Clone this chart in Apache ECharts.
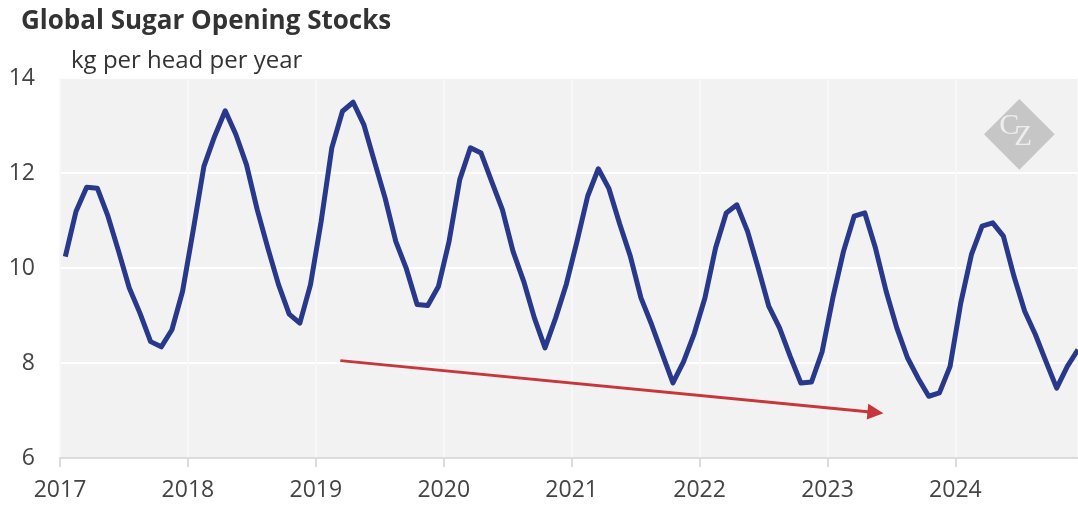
<!DOCTYPE html>
<html><head><meta charset="utf-8">
<script src="https://cdn.jsdelivr.net/npm/echarts@6/dist/echarts.min.js"></script>
<style>html,body{margin:0;padding:0;background:#fff}#c{width:1078px;height:506px}</style>
</head><body><div id="c"></div>
<script>
// Monthly opening stocks, kg per head per year (Jan..Dec)
const startYear = 2017;
const stocks2017 = [10.24, 11.19, 11.70, 11.68, 11.09, 10.35, 9.58, 9.05, 8.45, 8.34, 8.70, 9.51];
const stocks2018 = [10.80, 12.14, 12.77, 13.31, 12.81, 12.17, 11.23, 10.42, 9.65, 9.03, 8.84, 9.65];
const stocks2019 = [10.98, 12.53, 13.30, 13.49, 13.02, 12.24, 11.47, 10.56, 9.98, 9.23, 9.21, 9.61];
const stocks2020 = [10.56, 11.86, 12.53, 12.42, 11.82, 11.23, 10.35, 9.72, 8.95, 8.32, 8.95, 9.66];
const stocks2021 = [10.56, 11.51, 12.09, 11.67, 10.93, 10.25, 9.37, 8.81, 8.19, 7.58, 8.03, 8.62];
const stocks2022 = [9.37, 10.42, 11.16, 11.33, 10.77, 10.00, 9.19, 8.74, 8.14, 7.58, 7.60, 8.24];
const stocks2023 = [9.37, 10.35, 11.09, 11.16, 10.42, 9.51, 8.74, 8.11, 7.68, 7.30, 7.37, 7.93];
const stocks2024 = [9.26, 10.28, 10.88, 10.95, 10.67, 9.82, 9.09, 8.60, 8.03, 7.47, 7.93, 8.28];
const yearLabels = ['2017', '2018', '2019', '2020', '2021', '2022', '2023', '2024'];
const yTicks = [6, 8, 10, 12, 14];
// Trend arrow ends, in (months since Jan 2017, kg) units
const trendFrom = [26.3, 8.05];
const trendTo = [76.5, 6.96];

const yearly = [stocks2017, stocks2018, stocks2019, stocks2020, stocks2021, stocks2022, stocks2023, stocks2024];
const seriesData = [];
yearly.forEach((arr, yi) => arr.forEach((v, m) => seriesData.push([yi * 12 + m + 0.5, v])));

const FONT = 'Open Sans';
const chart = echarts.init(document.getElementById('c'), null, {renderer: 'canvas'});
chart.setOption({
  animation: false,
  textStyle: {fontFamily: FONT},
  title: [
    {text: 'Global Sugar Opening Stocks', left: 16, top: 4,
     textStyle: {fontFamily: FONT, fontWeight: 'bold', fontSize: 26, color: '#333'}},
    {text: 'kg per head per year', left: 66, top: 44,
     textStyle: {fontFamily: FONT, fontWeight: 'normal', fontSize: 24, color: '#333'}}
  ],
  grid: {left: 60, right: 0, top: 78, bottom: 48, show: true, backgroundColor: '#f2f2f2', borderWidth: 0},
  xAxis: {
    type: 'value', min: 0, max: 95.5, interval: 12,
    axisLine: {show: true, lineStyle: {color: '#dcdcdc', width: 2}},
    axisTick: {show: true, length: 9, lineStyle: {color: '#dcdcdc', width: 2}},
    splitLine: {show: true, lineStyle: {color: '#f8f8f8', width: 2}},
    axisLabel: {
      fontFamily: FONT, fontSize: 23, color: '#444', margin: 21, showMaxLabel: false,
      formatter: v => (v % 12 === 0 ? yearLabels[v / 12] : '')
    }
  },
  yAxis: {
    type: 'value', min: yTicks[0], max: yTicks[yTicks.length - 1], interval: 2,
    axisLine: {show: false}, axisTick: {show: false},
    splitLine: {show: true, lineStyle: {color: '#ffffff', width: 2}},
    axisLabel: {fontFamily: FONT, fontSize: 23, color: '#444', margin: 25}
  },
  series: [{
    type: 'line', data: seriesData, showSymbol: false, symbol: 'none',
    lineStyle: {color: '#28388a', width: 5, join: 'round'},
    z: 3,
    markLine: {
      silent: true, symbol: ['none', 'triangle'], symbolSize: [16, 16],
      label: {show: false},
      lineStyle: {color: '#c8353a', width: 3, type: 'solid'},
      data: [[{coord: trendFrom}, {coord: trendTo}]]
    }
  }],
  graphic: [{
    type: 'group', left: 984, top: 99, z: 0,
    children: [
      {type: 'rect', shape: {x: -25, y: -25, width: 50, height: 50}, rotation: Math.PI / 4, x: 35, y: 35,
       style: {fill: '#c6c6c6'}},
      {type: 'text', x: 15, y: 12, style: {text: 'C', fontFamily: 'Liberation Serif', fontSize: 30, fill: '#ededed'}},
      {type: 'text', x: 30, y: 24, style: {text: 'Z', fontFamily: 'Liberation Serif', fontSize: 29, fill: '#ededed'}}
    ]
  }]
});
</script></body></html>
